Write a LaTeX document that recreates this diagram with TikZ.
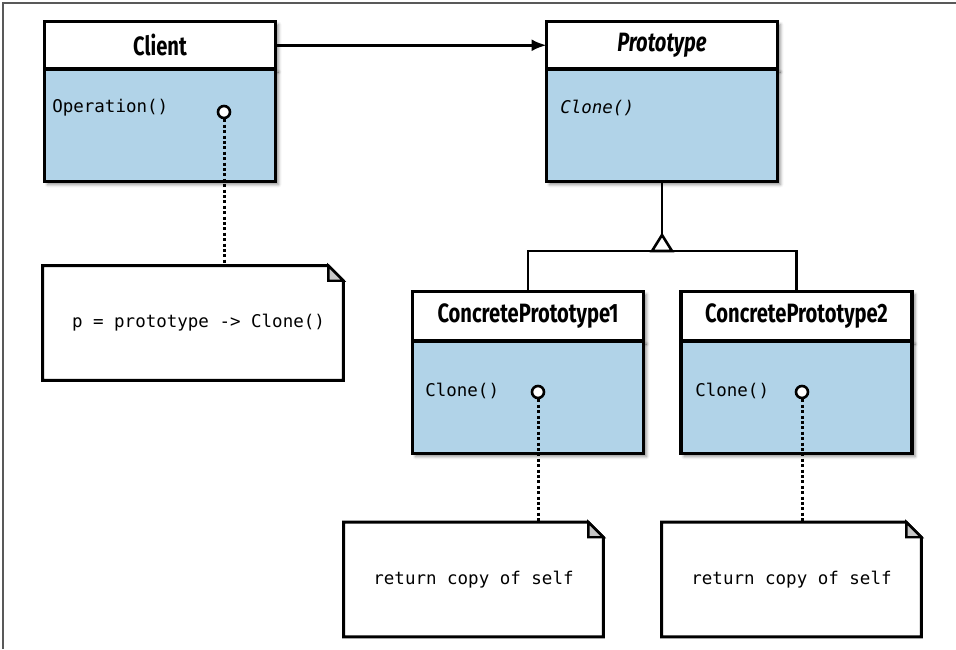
\documentclass[tikz,border=0pt]{standalone}
\usepackage{fontspec}
\usetikzlibrary{positioning,shadows.blur,arrows.meta}
\newfontfamily\headfont{Fira Sans}[FakeStretch=0.76]
\newfontfamily\codefont{DejaVu Sans Mono}
\definecolor{classblue}{RGB}{177,211,232}
\definecolor{foldgray}{RGB}{200,200,200}
\tikzset{
	classhead/.style = {shape=rectangle, draw, line width=3.2pt,
		fill=white, minimum width=231pt, outer sep=0pt,
		font=\headfont\bfseries\fontsize{26.5}{28}\selectfont,
		blur shadow={shadow xshift=3pt, shadow yshift=-3pt,
			shadow blur radius=3pt, shadow opacity=45}},
	classbody/.style = {classhead, fill=classblue, minimum height=112.5pt},
	method/.style = {anchor=west, inner sep=0pt,
		font=\codefont\fontsize{17.5}{20}\selectfont},
	port/.style = {shape=circle, draw, line width=2.6pt, fill=white,
		inner sep=0pt, minimum size=12pt},
	notebox/.style = {shape=rectangle, inner sep=0pt,
		font=\codefont\fontsize{17.5}{20}\selectfont},
	noteline/.style = {line width=3pt, dash pattern=on 3pt off 2.4pt}
}
\begin{document}
\begin{tikzpicture}[x=1pt,y=-1pt,line width=2.6pt]
	\useasboundingbox (0,0) rectangle (956,649);
	\draw[gray!70!black, line width=1.5pt] (3,649) -- (3,3) -- (956,3);

	% classes
	\node[classhead, minimum height=47.5pt] (clienthead) at (160,45.25) {Client};
	\node[classbody, below=0pt of clienthead] (clientbody) {};
	\node[classhead, minimum height=47.5pt, font=\headfont\bfseries\itshape\fontsize{26.5}{28}\selectfont]
		(protohead) at (662,45.25) {Prototype};
	\node[classbody, below=0pt of protohead] (protobody) {};
	\node[classhead, minimum height=49.5pt] (cponehead) at (528,316.25) {ConcretePrototype1};
	\node[classbody, below=0pt of cponehead] (cponebody) {};
	\node[classhead, minimum height=49.5pt] (cptwohead) at (796.5,316.25) {ConcretePrototype2};
	\node[classbody, below=0pt of cptwohead] (cptwobody) {};

	% operations
	\node[method] (clientop) at (51,108) {Operation()};
	\node[method, font=\codefont\itshape\fontsize{17.5}{20}\selectfont] (protoop) at (559,108) {Clone()};
	\node[method] (cponeop) at (424,391) {Clone()};
	\node[method] (cptwoop) at (694,391) {Clone()};
	\node[port] (clientport) at (224,112) {};
	\node[port] (cponeport) at (538,392) {};
	\node[port] (cptwoport) at (802,392) {};

	% notes
	\node[notebox, minimum width=298pt, minimum height=112pt] (clientnote) at (193,323)
		{\hspace*{11pt}p = prototype -> Clone()};
	\node[notebox, minimum width=257pt, minimum height=112pt] (cponenote) at (473.5,579.5)
		{return copy of self};
	\node[notebox, minimum width=257pt, minimum height=112pt] (cptwonote) at (791.5,579.5)
		{return copy of self};
	\foreach \n in {clientnote,cponenote,cptwonote}{
		\draw[line width=3pt, line join=miter] (\n.north west) -- ([xshift=-15pt]\n.north east)
			-- ([yshift=-15pt]\n.north east) -- (\n.south east) -- (\n.south west) -- cycle;
		\filldraw[fill=foldgray, line width=2.4pt, line join=miter] ([xshift=-15pt]\n.north east)
			-- ([xshift=-15pt,yshift=-15pt]\n.north east) -- ([yshift=-15pt]\n.north east) -- cycle;
	}

	% connectors
	\draw[-{Latex[length=15pt,width=12pt]}] (clienthead.east) -- (protohead.west);
	\draw[noteline] (clientport.south) -- (clientport |- clientnote.north);
	\draw[noteline] (cponeport.south) -- (cponeport |- cponenote.north);
	\draw[noteline] (cptwoport.south) -- (cptwoport |- cptwonote.north);

	\coordinate (join) at (662,251);
	\draw (cponehead.north) |- (join) -| (cptwohead.north);
	\draw ([yshift=16pt]join) -- (protobody.south);
	\draw[fill=white, line join=miter] ([xshift=-10pt]join) -- ([yshift=16pt]join)
		-- ([xshift=10pt]join) -- cycle;
\end{tikzpicture}
\end{document}
